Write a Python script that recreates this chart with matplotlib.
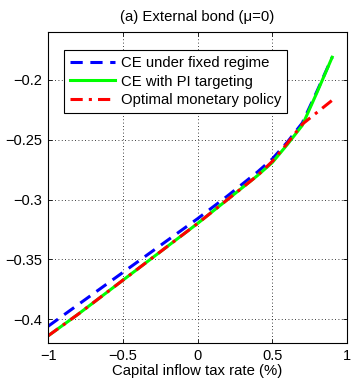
import numpy as np
import matplotlib
matplotlib.use('Agg')
import matplotlib.pyplot as plt

plt.rcParams['font.family'] = ['Liberation Sans', 'DejaVu Sans']

# capital inflow tax rate (%)
tax = [-1.0, -0.8, -0.6, -0.4, -0.2, 0.0, 0.2, 0.4, 0.5, 0.6, 0.7, 0.8, 0.9]
ce_fixed = [-0.406, -0.388, -0.370, -0.352, -0.334, -0.316, -0.297, -0.277,
            -0.266, -0.252, -0.236, -0.209, -0.181]
ce_pi = [-0.414, -0.396, -0.377, -0.358, -0.339, -0.320, -0.300, -0.280,
         -0.269, -0.254, -0.238, -0.210, -0.181]
optimal = [-0.414, -0.396, -0.377, -0.358, -0.339, -0.320, -0.300, -0.280,
           -0.268, -0.253, -0.237, -0.227, -0.217]

fig = plt.figure(figsize=(3.51, 3.81), dpi=100)
ax = fig.add_axes([0.137, 0.0997, 0.852, 0.816])

ax.plot(tax, ce_fixed, '--', color='#0000ff', lw=2.2, dashes=(4, 2.5),
        label='CE under fixed regime')
ax.plot(tax, ce_pi, '-', color='#00ff00', lw=2.2, label='CE with PI targeting')
ax.plot(tax, optimal, '-.', color='#ff0000', lw=2.2, dashes=(4, 2, 1, 2),
        label='Optimal monetary policy')

ax.set_xlim(-1, 1)
ax.set_ylim(-0.42, -0.16)
ax.set_xticks([-1, -0.5, 0, 0.5, 1])
ax.set_xticklabels(['\u22121', '\u22120.5', '0', '0.5', '1'])
yt = [-0.4, -0.35, -0.3, -0.25, -0.2]
ax.set_yticks(yt)
ax.set_yticklabels(['\u22120.4', '\u22120.35', '\u22120.3', '\u22120.25', '\u22120.2'])
ax.tick_params(direction='in', length=3, labelsize=10.5, top=True, right=True,
               width=0.6, pad=4)
ax.grid(True, linestyle=(0, (1, 3)), color='k', lw=0.6)
for s in ax.spines.values():
    s.set_linewidth(0.8)

ax.set_xlabel('Capital inflow tax rate (%)', fontsize=10.7, labelpad=1)
ax.set_title('(a) External bond (\u03bc=0)', fontsize=10.7, pad=8)

leg = ax.legend(loc='upper left', bbox_to_anchor=(0.054, 0.942), fontsize=10.7,
                frameon=True, fancybox=False, edgecolor='k', framealpha=1,
                borderpad=0.4, labelspacing=0.3, handlelength=3.0,
                handletextpad=0.4, borderaxespad=0)
leg.get_frame().set_linewidth(0.8)

fig.savefig('out.png', dpi=100)
